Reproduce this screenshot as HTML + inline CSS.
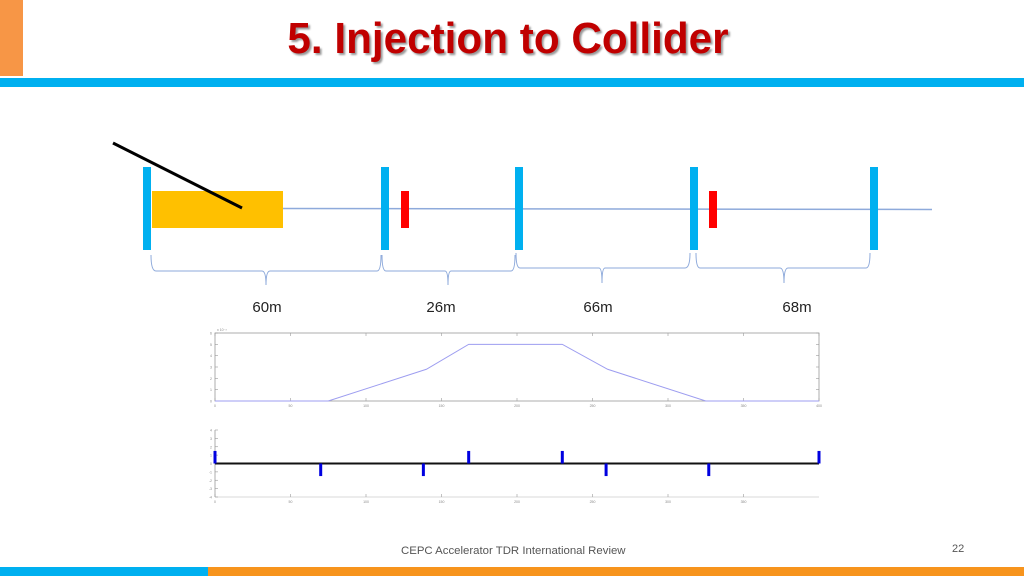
<!DOCTYPE html>
<html><head><meta charset="utf-8"><style>
body{margin:0;width:1024px;height:576px;overflow:hidden;background:#fff;font-family:"Liberation Sans",sans-serif;position:relative}
div{position:absolute}
</style></head><body>
<div style="left:0;top:0;width:23px;height:76px;background:#f79646"></div>
<div style="left:208px;top:14px;width:600px;text-align:center;font-weight:bold;font-size:44px;color:#c00000;text-shadow:2px 2px 2px #999;transform:scaleX(0.96);transform-origin:center">5. Injection to Collider</div>
<div style="left:0;top:78px;width:1024px;height:9px;background:#00b0f0"></div>

<svg width="1024" height="330" style="position:absolute;left:0;top:0">
<line x1="283" y1="208.5" x2="932" y2="209.5" stroke="#8eaadb" stroke-width="1.5"/>
<rect x="152" y="191" width="131" height="37" fill="#ffc000"/>
<line x1="113" y1="143" x2="242" y2="208" stroke="#000" stroke-width="3"/>
<g fill="#00b0f0">
<rect x="143" y="167" width="8" height="83"/>
<rect x="381" y="167" width="8" height="83"/>
<rect x="515" y="167" width="8" height="83"/>
<rect x="690" y="167" width="8" height="83"/>
<rect x="870" y="167" width="8" height="83"/>
</g>
<rect x="401" y="191" width="8" height="37" fill="#ff0000"/>
<rect x="709" y="191" width="8" height="37" fill="#ff0000"/>
<g fill="none" stroke="#8eaadb" stroke-width="1">
<path d="M151 255 Q151 271 156 271 H262 Q266 271 266 285 Q266 271 270 271 H377 Q381 271 381 255"/>
<path d="M382 255 Q382 271 386 271 H445 Q448 271 448 285 Q448 271 451 271 H511 Q515 271 515 255"/>
<path d="M516 253 Q516 268 520 268 H599 Q602 268 602 283 Q602 268 605 268 H685 Q690 268 690 253"/>
<path d="M696 253 Q696 268 700 268 H780 Q784 268 784 283 Q784 268 788 268 H866 Q870 268 870 253"/>
</g>
<g font-size="15" fill="#222" text-anchor="middle">
<text x="267" y="312">60m</text>
<text x="441" y="312">26m</text>
<text x="598" y="312">66m</text>
<text x="797" y="312">68m</text>
</g>
</svg>

<svg id="c1" width="1024" height="576" style="position:absolute;left:0;top:0"></svg>

<div style="left:401px;top:545px;font-size:11.4px;color:#555">CEPC Accelerator TDR International Review</div>
<div style="left:952px;top:543px;font-size:11px;color:#555">22</div>
<div style="left:0;top:567px;width:208px;height:9px;background:#00b0f0"></div>
<div style="left:208px;top:567px;width:816px;height:9px;background:#f7941d"></div>

<script>
const topX=[0,50,75,140,168,230,260,325,400];
const topY=[0,0,0,2.8,5,5,2.8,0,0];
const topXTicks=[0,50,100,150,200,250,300,350,400];
const topYTicks=[0,1,2,3,4,5,6];
const kickX=[0,70,138,168,230,259,327,400];
const kickV=[1.5,-1.5,-1.5,1.5,1.5,-1.5,-1.5,1.5];
const botXTicks=[0,50,100,150,200,250,300,350];
const botYTicks=[-4,-3,-2,-1,0,1,2,3,4];

const svg=document.getElementById('c1');
const NS='http://www.w3.org/2000/svg';
function mk(t,a,p){const e=document.createElementNS(NS,t);for(const k in a)e.setAttribute(k,a[k]);(p||svg).appendChild(e);return e;}
const x0=215,x1=819;
const sx=v=>x0+v/400*(x1-x0);
const t0=333,t1=401; const syT=v=>t1-v/6*(t1-t0);
const b0=430,b1=497; const syB=v=>(b0+b1)/2-v/4*(b1-b0)/2;

let r=mk('rect',{x:x0,y:t0,width:x1-x0,height:t1-t0,fill:'none',stroke:'#999','stroke-width':0.8});


topXTicks.forEach(v=>{
  mk('line',{x1:sx(v),x2:sx(v),y1:t1,y2:t1-3,stroke:'#999','stroke-width':0.6});
  mk('line',{x1:sx(v),x2:sx(v),y1:t0,y2:t0+3,stroke:'#999','stroke-width':0.6});
  const t=mk('text',{x:sx(v),y:t1+6,'font-size':3.5,'text-anchor':'middle',fill:'#888'});t.textContent=v;
  
  
});
topYTicks.forEach(v=>{
  mk('line',{x1:x0,x2:x0+3,y1:syT(v),y2:syT(v),stroke:'#999','stroke-width':0.6});
  mk('line',{x1:x1,x2:x1-3,y1:syT(v),y2:syT(v),stroke:'#999','stroke-width':0.6});
  const t=mk('text',{x:x0-3,y:syT(v)+1.5,'font-size':3.5,'text-anchor':'end',fill:'#888'});t.textContent=v;
  
  
});
let ex=mk('text',{x:x0+2,y:t0-2,'font-size':3.5,fill:'#888'});ex.textContent='x 10⁻³';


const pts=topX.map((v,i)=>sx(v)+','+syT(topY[i])).join(' ');
let pl=mk('polyline',{points:pts,fill:'none',stroke:'#9d9df0','stroke-width':1});



let ax=mk('line',{x1:x0,x2:x0,y1:b0,y2:b1,stroke:'#999','stroke-width':0.8});


let ax2=mk('line',{x1:x0,x2:x1,y1:b1,y2:b1,stroke:'#ccc','stroke-width':0.8});


botXTicks.forEach(v=>{
  mk('line',{x1:sx(v),x2:sx(v),y1:b1,y2:b1-3,stroke:'#999','stroke-width':0.6});
  const t=mk('text',{x:sx(v),y:b1+6,'font-size':3.5,'text-anchor':'middle',fill:'#888'});t.textContent=v;
  
  
});
botYTicks.forEach(v=>{
  mk('line',{x1:x0,x2:x0+3,y1:syB(v),y2:syB(v),stroke:'#999','stroke-width':0.6});
  const t=mk('text',{x:x0-3,y:syB(v)+1.5,'font-size':3.5,'text-anchor':'end',fill:'#888'});t.textContent=v;
  
  
});
let zl=mk('line',{x1:sx(0),x2:sx(400),y1:syB(0),y2:syB(0),stroke:'#111','stroke-width':2});


kickX.forEach((v,i)=>{
  const y=syB(kickV[i]),z=syB(0);
  const b=mk('rect',{x:sx(v)-1.5,y:Math.min(y,z),width:3,height:Math.abs(z-y),fill:'#0000e0'});
  
  
});
</script>
</body></html>
